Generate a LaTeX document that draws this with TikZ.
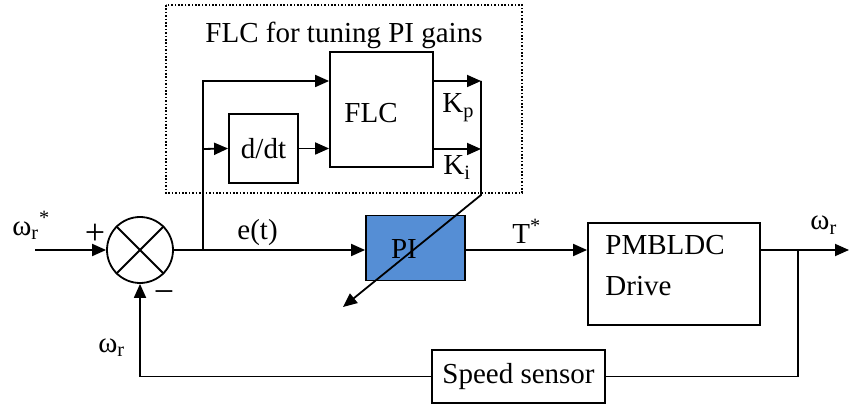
\documentclass[tikz,border=0pt]{standalone}
\usepackage{fontspec}
\setmainfont{Liberation Serif}
\usetikzlibrary{arrows.meta, positioning, calc}
\definecolor{piblue}{RGB}{85,142,213}
\tikzset{
	blk/.style={draw, line width=0.9pt, inner sep=0pt},
	sig/.style={line width=0.9pt, -{Triangle[length=7pt,width=6pt]}},
	wire/.style={line width=0.9pt},
	txt/.style={font=\fontsize{14.5}{17}\selectfont, inner sep=0pt},
	sgn/.style={font=\fontsize{18}{20}\selectfont, inner sep=0pt},
}

\begin{document}
\begin{tikzpicture}[x=0.5pt, y=-0.5pt]
	\useasboundingbox (0,0) rectangle (849,405);
	% blocks
	\draw[line width=0.8pt, dash pattern=on 0.8pt off 0.9pt] (166,5) rectangle (522,193);
	\node[blk, minimum width=51.5pt, minimum height=57.5pt] (flc) at (381.5,109.5) {};
	\node[blk, minimum width=34.5pt, minimum height=34.5pt, txt] (ddt) at (263.5,148.5) {d/dt};
	\node[blk, fill=piblue, minimum width=49.5pt, minimum height=32.5pt] (pi) at (415.5,248) {};
	\node[blk, minimum width=86pt, minimum height=51pt] (drive) at (674,274) {};
	\node[blk, minimum width=86.5pt, minimum height=26.5pt, txt] (sensor) at (518.5,376.5) {Speed sensor};
	\node[draw, circle, line width=0.9pt, minimum size=33pt, inner sep=0pt] (sum) at (140,250) {};
	\draw[wire] (sum.north west) -- (sum.south east);
	\draw[wire] (sum.north east) -- (sum.south west);

	% points
	\coordinate (in) at (35,250);
	\coordinate (br) at (203,250);
	\coordinate (top) at (203,81);
	\coordinate (mid) at (203,149);
	\coordinate (kp) at (481,81);
	\coordinate (ki) at (481,149);
	\coordinate (bend) at (481,195);
	\coordinate (tip) at (343,307);
	\coordinate (br2) at (798,250);
	\coordinate (out) at (849,250);

	% signals
	\draw[sig] (in) -- (sum.west);
	\draw[sig] (sum.east) -- (pi.west |- sum.east);
	\draw[sig] (br) -- (top) -- (flc.west |- top);
	\draw[sig] (mid) -- (ddt.west);
	\draw[sig] (ddt.east) -- (flc.west |- ddt.east);
	\draw[sig] (flc.east |- kp) -- (kp);
	\draw[sig] (flc.east |- ki) -- (ki);
	\draw[sig] (kp) -- (bend) -- (tip);
	\draw[sig] (pi.east |- sum.east) -- (drive.west |- sum.east);
	\draw[sig] (drive.east |- br2) -- (out);
	\draw[wire] (br2) |- (sensor.east);
	\draw[sig] (sensor.west) -| (sum.south);

	% labels
	\node[txt, anchor=north] (title) at (344,22) {FLC for tuning PI gains};
	\node[txt, anchor=base] (flctxt) at (371,123) {FLC};
	\node[txt, anchor=base] (pitxt) at (404,258) {PI};
	\node[txt, anchor=base west] (drv1) at (605,255) {PMBLDC};
	\node[txt, anchor=base west] (drv2) at (605,295) {Drive};
	\node[txt, anchor=base west] (kptxt) at (442,113) {K\textsubscript{p}};
	\node[txt, anchor=base west] (kitxt) at (443,175) {K\textsubscript{i}};
	\node[txt, anchor=base west] (et) at (237,240) {e(t)};
	\node[txt, anchor=base west] (tstar) at (512,243) {T\textsuperscript{*}};
	\node[txt, anchor=base west] (wref) at (12,235) {ω\textsubscript{r}\textsuperscript{*}};
	\node[txt, anchor=base west] (wfb) at (98,352) {ω\textsubscript{r}};
	\node[txt, anchor=base west] (wout) at (810,230) {ω\textsubscript{r}};
	\node[sgn] (plus) at (95,234) {+};
	\node[sgn] (minus) at (164,297) {−};
\end{tikzpicture}
\end{document}
